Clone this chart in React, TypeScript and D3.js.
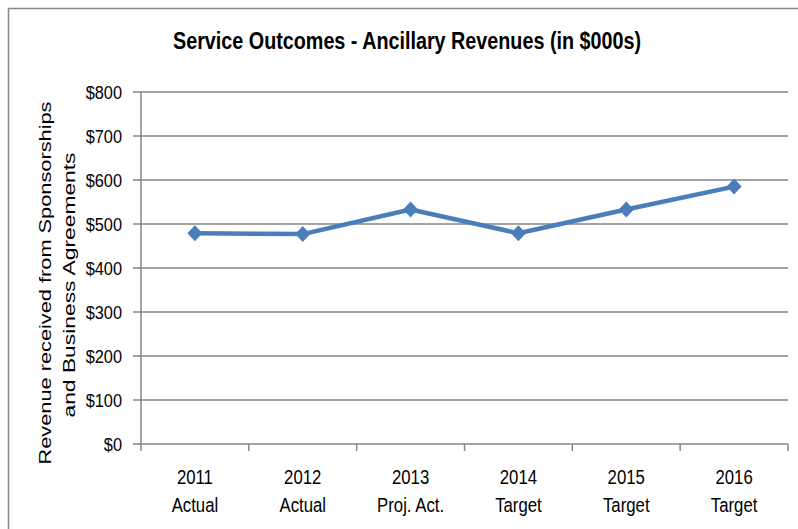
import React from "react";
import * as d3 from "d3";

const years = ["2011", "2012", "2013", "2014", "2015", "2016"];
const kinds = ["Actual", "Actual", "Proj. Act.", "Target", "Target", "Target"];
const revenue = [479, 477, 533, 479, 533, 585];
const yTicks = [0, 100, 200, 300, 400, 500, 600, 700, 800];

const W = 798;
const H = 529;
const left = 141;
const right = 788;
const top = 92;
const bottom = 444;

const FONT = "'Liberation Sans', Arial, sans-serif";
const SQ = 0.86;

export default function App() {
  const x = d3.scaleBand<string>().domain(years).range([left, right]);
  const y = d3.scaleLinear().domain([0, 800]).range([bottom, top]);
  const line = d3
    .line<number>()
    .x((_, i) => (x(years[i]) as number) + x.bandwidth() / 2)
    .y((d) => y(d));
  const bounds = [...years.map((yr) => x(yr) as number), right];

  return (
    <svg
      width={W}
      height={H}
      style={{ position: "absolute", left: 0, top: 0, background: "#fff" }}
    >
      <rect x={8.5} y={8.5} width={W} height={H} fill="#fff" stroke="#888" strokeWidth={1.5} />
      <text
        x={407}
        y={49}
        textAnchor="middle"
        fontFamily={FONT}
        fontWeight="bold"
        fontSize={23.5}
        textLength={468}
        lengthAdjust="spacingAndGlyphs"
        fill="#000"
      >
        Service Outcomes - Ancillary Revenues (in $000s)
      </text>

      {yTicks.map((t) => (
        <g key={t}>
          <line x1={133} x2={right} y1={y(t)} y2={y(t)} stroke="#868686" strokeWidth={1.5} />
          <g transform={`translate(122,${y(t) + 6.5}) scale(${SQ},1)`}>
            <text x={0} y={0} textAnchor="end" fontFamily={FONT} fontSize={19} fill="#000">
              {"$" + t}
            </text>
          </g>
        </g>
      ))}
      <line x1={left} x2={left} y1={top} y2={bottom} stroke="#868686" strokeWidth={1.5} />
      {bounds.map((b, i) => (
        <line key={i} x1={b} x2={b} y1={bottom} y2={bottom + 7} stroke="#868686" strokeWidth={1.5} />
      ))}

      {years.map((yr, i) => {
        const cx = (x(yr) as number) + x.bandwidth() / 2;
        return (
          <g key={yr}>
            <g transform={`translate(${cx},483.5) scale(${SQ},1)`}>
              <text x={0} y={0} textAnchor="middle" fontFamily={FONT} fontSize={19.5} fill="#000">
                {yr}
              </text>
            </g>
            <g transform={`translate(${cx},512) scale(${SQ},1)`}>
              <text x={0} y={0} textAnchor="middle" fontFamily={FONT} fontSize={19.5} fill="#000">
                {kinds[i]}
              </text>
            </g>
          </g>
        );
      })}

      <g transform="translate(51,283) rotate(-90)">
        <text
          x={0}
          y={0}
          textAnchor="middle"
          fontFamily={FONT}
          fontSize={17}
          textLength={363}
          lengthAdjust="spacingAndGlyphs"
          fill="#000"
        >
          Revenue received from Sponsorships
        </text>
      </g>
      <g transform="translate(75,285) rotate(-90)">
        <text
          x={0}
          y={0}
          textAnchor="middle"
          fontFamily={FONT}
          fontSize={17}
          textLength={265}
          lengthAdjust="spacingAndGlyphs"
          fill="#000"
        >
          and Business Agreements
        </text>
      </g>

      <path d={line(revenue) || ""} fill="none" stroke="#4A7EBB" strokeWidth={4.5} strokeLinejoin="round" />
      {revenue.map((v, i) => {
        const cx = (x(years[i]) as number) + x.bandwidth() / 2;
        const cy = y(v);
        return (
          <path
            key={i}
            d={`M${cx},${cy - 8}L${cx + 7.5},${cy}L${cx},${cy + 8}L${cx - 7.5},${cy}Z`}
            fill="#4A7EBB"
          />
        );
      })}
    </svg>
  );
}
